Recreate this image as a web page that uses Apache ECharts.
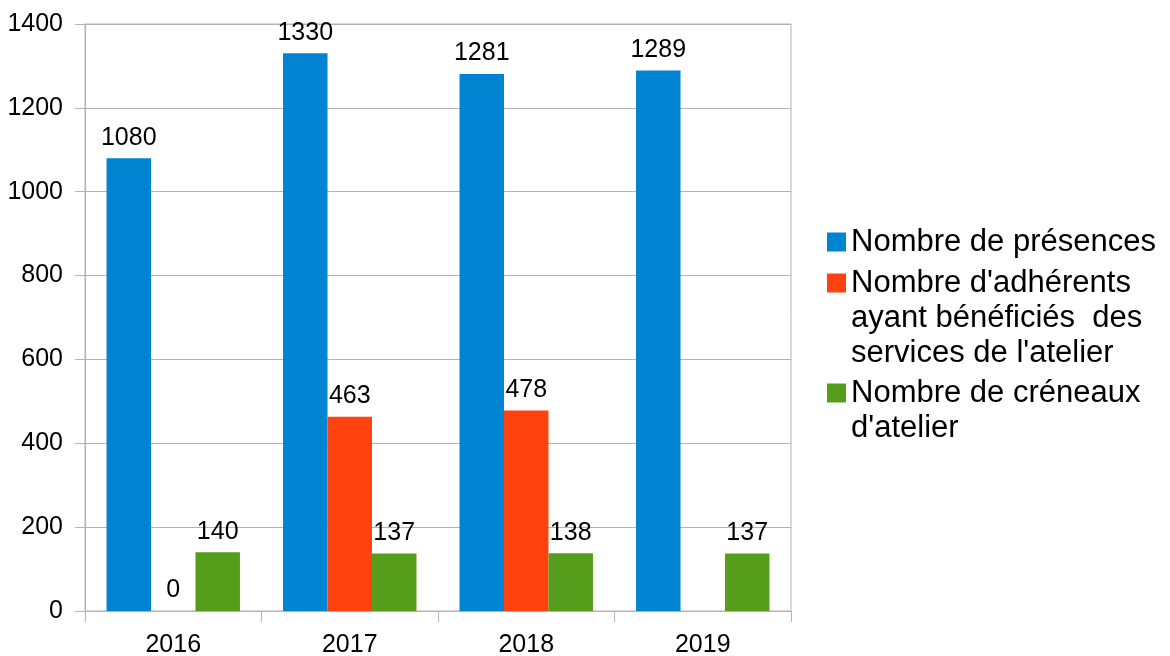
<!DOCTYPE html>
<html>
<head>
<meta charset="utf-8">
<title>Ateliers 2016-2019</title>
<script src="https://cdn.jsdelivr.net/npm/echarts@6/dist/echarts.min.js"></script>
<style>
  html, body { margin: 0; padding: 0; background: #fff; }
  #chart { width: 1170px; height: 656px; }
</style>
</head>
<body>
<div id="chart"></div>
<script>
  "use strict";

  // données
  const years = ["2016", "2017", "2018", "2019"];
  const presences = [1080, 1330, 1281, 1289];
  const adherents = [0, 463, 478, null];
  const creneaux = [140, 137, 138, 137];
  const yTicks = { min: 0, max: 1400, step: 200 };

  const seriesNames = [
    "Nombre de présences",
    "Nombre d'adhérents\nayant bénéficiés  des\nservices de l'atelier",
    "Nombre de créneaux\nd'atelier"
  ];
  const colors = ["#0084d1", "#ff420e", "#579d1c"];

  const font = "'Liberation Sans', Arial, sans-serif";
  const gridColor = "#b3b3b3";

  // une légende par série ; des lignes vides devant le texte
  // pour que le carré reste en face de la première ligne
  const legendLine = 35;
  function makeLegend(name, iconCenter) {
    const lines = name.split("\n").length;
    const total = lines * 2 - 1;
    return {
      data: [name],
      left: 827,
      top: iconCenter - total * legendLine / 2,
      padding: 0,
      orient: "vertical",
      selectedMode: false,
      icon: "rect",
      itemWidth: 19,
      itemHeight: 19,
      formatter: (n) => "\n".repeat(lines - 1) + n,
      textStyle: {
        fontFamily: font,
        fontSize: 31,
        lineHeight: legendLine,
        color: "#000"
      }
    };
  }

  const barLabel = {
    show: true,
    position: "top",
    distance: 8,
    fontFamily: font,
    fontSize: 25,
    color: "#000"
  };

  const chart = echarts.init(document.getElementById("chart"), null, { renderer: "canvas" });

  chart.setOption({
    animation: false,
    color: colors,
    textStyle: { fontFamily: font },
    legend: [
      makeLegend(seriesNames[0], 242),
      makeLegend(seriesNames[1], 283),
      makeLegend(seriesNames[2], 393)
    ],
    grid: {
      left: 85,
      right: 379,
      top: 24,
      bottom: 45,
      outerBoundsMode: "none",
      show: true,
      borderColor: gridColor,
      borderWidth: 1
    },
    xAxis: {
      type: "category",
      data: years,
      axisLine: { lineStyle: { color: gridColor } },
      axisTick: { show: true, length: 11, lineStyle: { color: gridColor } },
      axisLabel: { fontFamily: font, fontSize: 25, color: "#000", margin: 22 }
    },
    yAxis: {
      type: "value",
      min: yTicks.min,
      max: yTicks.max,
      interval: yTicks.step,
      axisLine: { show: true, lineStyle: { color: gridColor } },
      axisTick: { show: true, length: 10, lineStyle: { color: gridColor } },
      axisLabel: {
        fontFamily: font, fontSize: 25, color: "#000", margin: 22,
        formatter: (v) => String(v)
      },
      splitLine: { lineStyle: { color: gridColor } }
    },
    series: [
      { name: seriesNames[0], type: "bar", data: presences, barGap: 0, barCategoryGap: "24.4%", label: barLabel },
      { name: seriesNames[1], type: "bar", data: adherents, barGap: 0, barCategoryGap: "24.4%", label: barLabel },
      { name: seriesNames[2], type: "bar", data: creneaux, barGap: 0, barCategoryGap: "24.4%", label: barLabel }
    ]
  });

  window.addEventListener("resize", () => { chart.resize(); });
</script>
</body>
</html>
